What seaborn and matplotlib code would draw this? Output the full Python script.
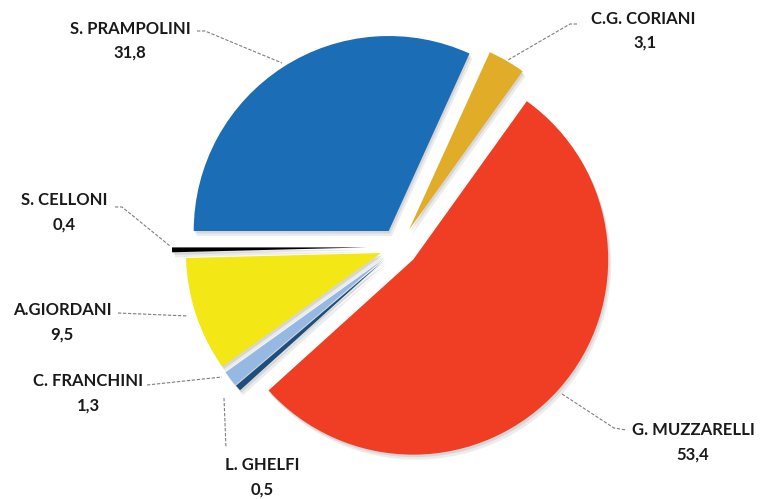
import matplotlib
matplotlib.use("Agg")
import matplotlib.pyplot as plt
import seaborn as sns

# vote shares (%) in clockwise order starting from 9 o'clock
candidates = ["S. PRAMPOLINI", "C.G. CORIANI", "G. MUZZARELLI", "L. GHELFI",
              "C. FRANCHINI", "A.GIORDANI", "S. CELLONI"]
value_labels = ["31,8", "3,1", "53,4", "0,5", "1,3", "9,5", "0,4"]
shares = [31.8, 3.1, 53.4, 0.5, 1.3, 9.5, 0.4]
slice_colors = ["#1b6db6", "#e1ad29", "#ef3e23", "#1e4f7c",
                "#95b9e2", "#f4e716", "#000000"]

sns.set_theme(style="white")
plt.rcParams['font.family'] = ['Lato', 'DejaVu Sans']

W, H = 761, 499
fig = plt.figure(figsize=(W / 100, H / 100), dpi=100)
ax = fig.add_axes([0, 0, 1, 1])

R = 195
CENTER = (399, 252)
explode = [19, 20, 19, 19, 19, 19, 32]

# soft grey shadow under the slices
for dx, dy, a in [(1.5, -2.5, 0.2), (3, -5, 0.14)]:
    ax.pie(shares, startangle=180, counterclock=False, radius=R,
           center=(CENTER[0] + dx, CENTER[1] + dy), explode=explode,
           colors=["#7f7f7f"] * len(shares),
           wedgeprops=dict(linewidth=0, alpha=a), normalize=True)

ax.pie(shares, startangle=180, counterclock=False, radius=R, center=CENTER,
       explode=explode, colors=slice_colors,
       wedgeprops=dict(linewidth=0), normalize=True)

# labels: (name center, value center, leader line points) in pixel coords, y from top
label_layout = {
    "S. PRAMPOLINI": ((130, 29), (130, 53), [(197, 31), (205, 31), (282, 63)]),
    "C.G. CORIANI": ((643, 19), (645, 43), [(577, 24), (570, 24), (508, 60)]),
    "G. MUZZARELLI": ((693, 430), (693, 455), [(562, 394), (614, 428), (626, 430)]),
    "L. GHELFI": ((262, 465), (262, 490), [(224, 398), (226, 448)]),
    "C. FRANCHINI": ((88, 381), (88, 406), [(147, 385), (222, 377)]),
    "A.GIORDANI": ((62, 310), (62, 335), [(118, 313), (188, 316)]),
    "S. CELLONI": ((64, 200), (64, 225), [(115, 207), (122, 207), (170, 246)]),
}

for name, val in zip(candidates, value_labels):
    (nx_, ny_), (vx, vy), pts = label_layout[name]
    ax.text(nx_, H - ny_, name, ha="center", va="center", fontsize=12,
            fontweight="bold", color="#1a1a1a")
    ax.text(vx, H - vy, val, ha="center", va="center", fontsize=12,
            fontweight="bold", color="#1a1a1a")
    ax.plot([p[0] for p in pts], [H - p[1] for p in pts], ls=(0, (3, 1.5)),
            color="#7f7f7f", lw=0.8)

ax.set_xlim(0, W)
ax.set_ylim(0, H)
ax.set_aspect("equal")
ax.axis("off")

fig.savefig("out.png", dpi=100, facecolor="white")
